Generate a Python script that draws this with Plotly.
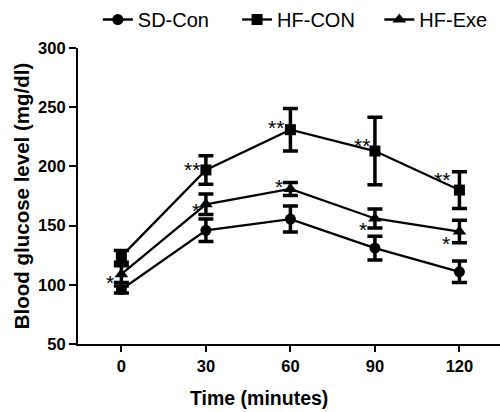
import plotly.graph_objects as go

time_min = [0, 30, 60, 90, 120]
series_names = ["SD-Con", "HF-CON", "HF-Exe"]
sd_con = [96, 146, 155.5, 131, 111]
sd_con_err = [3, 9.5, 11, 10, 9]
hf_con = [124, 197, 231, 213, 180]
hf_con_err = [5, 12, 18, 28.5, 15.5]
hf_exe = [109, 168, 181, 156, 145]
hf_exe_err = [7, 8.7, 5.5, 8, 9.5]
hf_con_sig = ["", "**", "**", "**", "**"]
hf_exe_sig = ["*", "*", "*", "*", "*"]
y_ticks = [50, 100, 150, 200, 250, 300]

FONT = "Liberation Sans, Arial, sans-serif"
symbols = ["circle", "square", "triangle-up"]
values = [sd_con, hf_con, hf_exe]
errs = [sd_con_err, hf_con_err, hf_exe_err]
legend_ids = ["legend", "legend2", "legend3"]
legend_x = [0.047, 0.377, 0.714]

fig = go.Figure()
for name, sym, v, e, lg in zip(series_names, symbols, values, errs, legend_ids):
    fig.add_trace(go.Scatter(
        x=time_min, y=v, name=name, mode="lines+markers", legend=lg,
        line=dict(color="black", width=2.3),
        marker=dict(symbol=sym, size=11 if sym != "triangle-up" else 12, color="black"),
        error_y=dict(type="data", array=e, visible=True, color="black", thickness=3.5, width=7.5),
    ))

# significance marks (offsets in pixels relative to each point)
con_shift = [(0, 0), (-14, 0), (-14, 2), (-13, 6), (-17, 11)]
exe_shift = [(-11, -8), (-10, -6), (-11, 2), (-12, -11), (-13, -12)]
for lbls, v, shifts in ((hf_con_sig, hf_con, con_shift), (hf_exe_sig, hf_exe, exe_shift)):
    for t, val, lab, (dx, dy) in zip(time_min, v, lbls, shifts):
        if lab:
            fig.add_annotation(x=t, y=val, xref="x", yref="y", text=lab, showarrow=False,
                               xanchor="center", yanchor="middle", xshift=dx, yshift=dy,
                               font=dict(family=FONT, size=21, color="#000000"))

# x-axis title (placed as in the reference, left of the plot centre)
fig.add_annotation(text="<b>Time (minutes)</b>", xref="paper", yref="paper", x=0.429, y=0,
                   xanchor="center", yanchor="middle", yshift=-54, showarrow=False,
                   font=dict(family=FONT, size=19.5, color="black"))

legend_style = dict(orientation="h", xref="paper", y=1.0, yref="container",
                    xanchor="left", yanchor="top",
                    font=dict(family=FONT, size=20, color="black"),
                    itemwidth=30, bgcolor="rgba(0,0,0,0)")

fig.update_layout(
    width=500, height=412,
    margin=dict(l=78, r=0, t=48, b=68, autoexpand=False),
    plot_bgcolor="white", paper_bgcolor="white",
    font=dict(family=FONT, color="black"),
    showlegend=True,
    legend=dict(x=legend_x[0], **legend_style),
    legend2=dict(x=legend_x[1], **legend_style),
    legend3=dict(x=legend_x[2], **legend_style),
    xaxis=dict(range=[-15.4, 134.4], tickvals=time_min, ticktext=[str(t) for t in time_min],
               showgrid=False, zeroline=False, showline=True, linecolor="black", linewidth=2.2,
               ticks="outside", ticklen=6, tickwidth=2, tickcolor="black",
               tickfont=dict(family=FONT, size=16.5, color="black", weight="bold")),
    yaxis=dict(range=[50, 300], tickvals=y_ticks, showgrid=False, zeroline=False,
               showline=True, linecolor="black", linewidth=2.2,
               ticks="outside", ticklen=7, tickwidth=2, tickcolor="black",
               tickfont=dict(family=FONT, size=16.5, color="black", weight="bold"),
               title=dict(text="<b>Blood glucose level (mg/dl)</b>", font=dict(family=FONT, size=20.5, color="black"), standoff=3)),
)

fig.write_html("out.html", config={"displayModeBar": False},
               post_script="document.body.style.margin='0';document.body.style.overflow='hidden';")
